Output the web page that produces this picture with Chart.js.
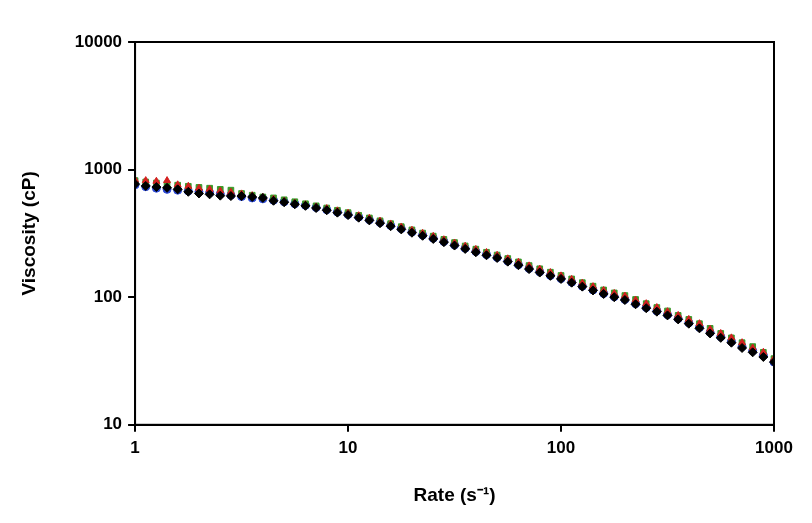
<!DOCTYPE html><html><head><meta charset="utf-8"><script src="https://cdn.jsdelivr.net/npm/chart.js"></script>
<style>body{margin:0;background:#fff}#w{width:812px;height:523px}</style></head><body><div id="w"><canvas id="c"></canvas></div>
<script>
const rates=[1,1.122,1.259,1.413,1.585,1.778,1.995,2.239,2.512,2.818,3.162,3.548,3.981,4.467,5.012,5.623,6.31,7.079,7.943,8.913,
10,11.22,12.59,14.13,15.85,17.78,19.95,22.39,25.12,28.18,31.62,35.48,39.81,44.67,50.12,56.23,63.1,70.79,79.43,89.13,
100,112.2,125.9,141.3,158.5,177.8,199.5,223.9,251.2,281.8,316.2,354.8,398.1,446.7,501.2,562.3,631,707.9,794.3,891.3,1000];
const blue=[760,735,715,700,690,680,670,660,645,630,615,600,590,575,560,540,525,505,485,465,445,425,405,385,365,345,325,307,290,273,257,242,228,216,205,192,180,168,158,148,140,131,122,114,107,101,96,89,83,78,73,68,63,58,53,49,45,41,38,35,31];
const red=[830,820,810,820,760,740,715,700,680,665,645,625,605,585,565,545,530,510,495,475,455,435,415,395,375,355,335,317,300,282,266,251,237,224,213,200,188,176,166,156,147,138,129,121,113,107,102,95,89,83,77,72,67,62,56,52,48,44,40,37,33];
const green=[820,800,785,770,755,740,725,715,700,690,650,630,610,600,580,560,540,520,500,480,460,438,418,397,377,357,337,318,301,284,268,252,238,225,214,201,189,177,167,157,148,139,130,122,114,108,103,96,89,83,78,72,67,62,57,52,48,44,41,37,33];
const black=[770,745,730,720,700,670,650,640,625,620,620,610,600,570,555,535,520,500,480,460,440,420,400,380,360,340,320,303,286,270,254,239,225,213,203,190,178,166,156,147,139,130,121,113,106,100,95,88,82,77,72,67,62,57,52,48,44,40,37,34,31];
const xTicks=[1,10,100,1000], yTicks=[10,100,1000,10000];
const pts=a=>a.map((v,i)=>({x:rates[i],y:v}));
const ds=(d,c,s)=>({data:pts(d),backgroundColor:c,borderColor:c,pointStyle:s,pointRadius:s==='rectRot'?4.5:4,showLine:false});
const border={id:'b',afterDraw(ch){const a=ch.chartArea,x=ch.ctx;x.save();x.strokeStyle='#000';x.lineWidth=2;x.strokeRect(a.left,a.top,a.right-a.left,a.bottom-a.top);x.restore();}};
const font={family:'Liberation Sans, Arial',size:17,weight:'bold'};
const ax=(min,max,tk,title,tp)=>({type:'logarithmic',min,max,
 afterBuildTicks:s=>{s.ticks=tk.map(v=>({value:v}));},
 ticks:{color:'#000',font,callback:v=>String(v),maxRotation:0,padding:6},
 grid:{drawOnChartArea:false,color:'#000',lineWidth:2,tickLength:7},border:{color:'#000',width:2},
 title:{display:true,text:title,color:'#000',padding:tp,font:{family:'Liberation Sans, Arial',size:19,weight:'bold'}}});
new Chart(document.getElementById('c'),{type:'scatter',
 data:{datasets:[ds(black,'#000','rectRot'),ds(red,'#d42020','triangle'),ds(green,'#3a9a2a','rect'),ds(blue,'#2e4bd8','circle')]},
 options:{responsive:true,maintainAspectRatio:false,animation:false,
  layout:{padding:{left:18,right:38,top:42,bottom:16}},
  plugins:{legend:{display:false},tooltip:{enabled:false}},
  scales:{x:ax(1,1000,xTicks,'Rate (s⁻¹)',{top:20,bottom:0}),y:ax(10,10000,yTicks,'Viscosity (cP)',{top:0,bottom:28})}},
 plugins:[border]});
</script></body></html>
